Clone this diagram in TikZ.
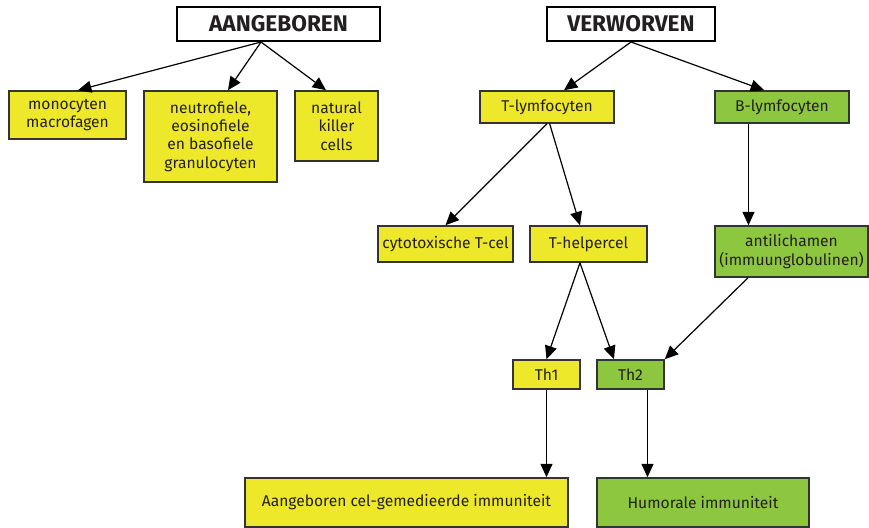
\documentclass[tikz,border=0pt]{standalone}
\usepackage{fontspec}
\setmainfont{Fira Sans}
\usepackage{tikz}
\usetikzlibrary{arrows.meta, positioning}
\definecolor{immyellow}{RGB}{238, 232, 42}
\definecolor{immgreen}{RGB}{141, 198, 63}
\definecolor{immline}{RGB}{51, 51, 51}
\definecolor{immtext}{RGB}{35, 31, 32}

\begin{document}
\begin{tikzpicture}[x=0.75pt, y=-0.75pt,
    headbox/.style={rectangle, draw=black, line width=1.5pt, fill=white, inner sep=0pt, font=\fontsize{17}{20}\selectfont\bfseries, text=immtext},
    box/.style={rectangle, draw=immline, line width=1.2pt, inner sep=0pt, align=center, font=\fontsize{11.7}{13.7}\selectfont, text=immtext},
    arr/.style={-{Triangle[length=10pt, width=9pt]}, line width=0.9pt}
]
\useasboundingbox (0,0) rectangle (869,528);

% Two headings
\node[headbox, minimum width=152.25pt, minimum height=25.5pt] (innate) at (278.5,24) {AANGEBOREN};
\node[headbox, minimum width=126pt, minimum height=25.5pt] (adaptive) at (631,24) {VERWORVEN};

% Innate cells
\node[box, fill=immyellow, minimum width=87.75pt, minimum height=36pt] (mono) at (67.5,115) {monocyten\\macrofagen};
\node[box, fill=immyellow, minimum width=99.75pt, minimum height=68.25pt] (granulo) at (210.5,136.5) {neutrofiele,\\eosinofiele\\en basofiele\\granulocyten};
\node[box, fill=immyellow, minimum width=62.25pt, minimum height=52.5pt] (nk) at (336.5,126) {natural\\killer\\cells};

% Lymphocytes
\node[box, fill=immyellow, minimum width=100.5pt, minimum height=24pt] (tlym) at (547,107) {T-lymfocyten};
\node[box, fill=immgreen, minimum width=100.5pt, minimum height=24pt] (blym) at (782,107) {B-lymfocyten};

% T-cells and antibodies
\node[box, fill=immyellow, minimum width=101.25pt, minimum height=27pt] (tcyto) at (445.5,244) {cytotoxische T-cel};
\node[box, fill=immyellow, minimum width=87.75pt, minimum height=27pt] (thelp) at (588.5,244) {T-helpercel};
\node[box, fill=immgreen, minimum width=114.75pt, minimum height=38.25pt] (abody) at (791.5,251.5) {antilichamen\\(immuunglobulinen)};

% Helper subtypes
\node[box, fill=immyellow, minimum width=50.25pt, minimum height=21.75pt] (thone) at (546.5,374.5) {Th1};
\node[box, fill=immgreen, minimum width=50.25pt, minimum height=21.75pt] (thtwo) at (630.5,374.5) {Th2};

% Immunity types
\node[box, fill=immyellow, minimum width=242.25pt, minimum height=36.75pt] (cellimm) at (406.5,502.5) {Aangeboren cel-gemedieerde immuniteit};
\node[box, fill=immgreen, minimum width=159pt, minimum height=36.75pt] (humimm) at (703,502.5) {Humorale immuniteit};

% Arrows from headings
\draw[arr] ([xshift=-13.1pt]innate.south) -- ([xshift=7.9pt]mono.north);
\draw[arr] ([xshift=-13.1pt]innate.south) -- ([xshift=13.1pt]granulo.north);
\draw[arr] ([xshift=-13.1pt]innate.south) -- ([xshift=-7.9pt]nk.north);
\draw[arr] (adaptive.south) -- ([xshift=12.75pt]tlym.north);
\draw[arr] (adaptive.south) -- ([xshift=-13.5pt]blym.north);

% Arrows from lymphocytes
\draw[arr] (tlym.south) -- (tcyto.north);
\draw[arr] ([xshift=2pt]tlym.south) -- ([xshift=-6.4pt]thelp.north);
\draw[arr] ([xshift=-25.125pt]blym.south) -- ([xshift=-25.125pt]blym.south |- abody.north);

% Arrows to helper subtypes
\draw[arr] ([xshift=-6.4pt]thelp.south) -- (thone.north);
\draw[arr] ([xshift=-6.4pt]thelp.south) -- ([xshift=-12.4pt]thtwo.north);
\draw[arr] ([xshift=-32.6pt]abody.south) -- (thtwo.north east);

% Arrows to immunity types
\draw[arr] (thone.south) -- (thone.south |- cellimm.north);
\draw[arr] ([xshift=12.75pt]thtwo.south) -- ([xshift=12.75pt]thtwo.south |- humimm.north);
\end{tikzpicture}
\end{document}
